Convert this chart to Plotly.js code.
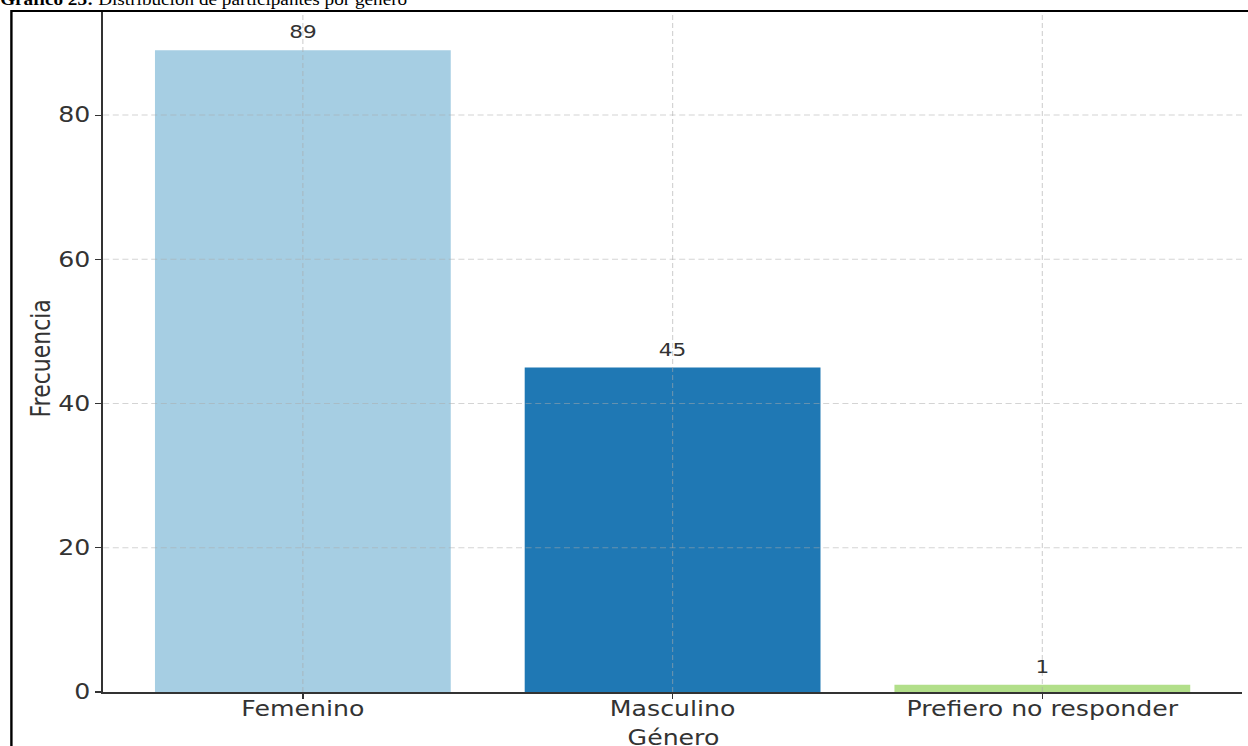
<!DOCTYPE html>
<html>
<head>
<meta charset="utf-8">
<script src="https://cdn.plot.ly/plotly-3.0.1.min.js"></script>
<style>
  html, body { margin: 0; padding: 0; overflow: hidden; background: #fff; }
  #wrap { width: 1040px; height: 746px; transform: scaleX(1.2); transform-origin: 0 0; }
</style>
</head>
<body>
<div id="wrap"><div id="chart" style="width:1040px;height:746px;"></div></div>
<script>
// ---- data ----
const categories = ['Femenino', 'Masculino', 'Prefiero no responder'];
const frecuencias = [89, 45, 1];
const colores = ['#a6cee3', '#1f78b4', '#b2df8a'];
const yTicks = [0, 20, 40, 60, 80];
const chartTitle = '<b>Gráfico 23:</b> Distribución de participantes por género';
const xTitle = 'Género';
const yTitle = 'Frecuencia';

// ---- layout geometry ----
const W = 1040, H = 746;
const M = { l: 86, r: 5, t: 12, b: 54 };
const pw = W - M.l - M.r, ph = H - M.t - M.b;
const txt = '#333333';
const font = 'DejaVu Sans, sans-serif';
const gridLine = { color: 'rgba(170,170,170,0.5)', width: 1, dash: '5px,3px' };

const shapes = [];
yTicks.slice(1).forEach(v => shapes.push({
  type: 'line', xref: 'paper', x0: 0, x1: 1, yref: 'y', y0: v, y1: v,
  line: gridLine, layer: 'above'
}));
categories.forEach(c => shapes.push({
  type: 'line', xref: 'x', x0: c, x1: c, yref: 'paper', y0: 0, y1: 1,
  line: gridLine, layer: 'above'
}));
// document frame
shapes.push({
  type: 'rect', xref: 'paper', yref: 'paper',
  x0: (9.5 - M.l) / pw, x1: 1.2, y0: -0.3, y1: 1 + (M.t - 11) / ph,
  line: { color: '#000', width: 2 }, fillcolor: 'rgba(0,0,0,0)', layer: 'below'
});

const annotations = categories.map((c, i) => ({
  x: c, y: frecuencias[i], xref: 'x', yref: 'y',
  text: String(frecuencias[i]), showarrow: false,
  yanchor: 'bottom', yshift: 6,
  font: { family: font, size: 18, color: txt }
}));
annotations.push({
  xref: 'paper', yref: 'paper', x: (-M.l - 2) / pw, y: 1 + (M.t - 11.5) / ph,
  xanchor: 'left', yanchor: 'bottom', showarrow: false, text: chartTitle,
  font: { family: 'Liberation Serif, Times New Roman, serif', size: 16, color: '#000' }
});
// axis titles
annotations.push({
  xref: 'paper', yref: 'paper', x: 0.5, y: -(738 - (H - M.b)) / ph,
  xanchor: 'center', yanchor: 'middle', showarrow: false, text: xTitle,
  font: { family: font, size: 21, color: txt }
});
annotations.push({
  xref: 'paper', yref: 'paper', x: (33.5 - M.l) / pw, y: 1 - (359 - M.t) / ph,
  xanchor: 'center', yanchor: 'middle', showarrow: false, text: yTitle, textangle: -90,
  font: { family: font, size: 22, color: txt }
});

const trace = {
  type: 'bar', x: categories, y: frecuencias, width: 0.8,
  marker: { color: colores, line: { width: 0 } },
  hoverinfo: 'none'
};

const layout = {
  width: W, height: H, margin: M,
  paper_bgcolor: '#fff', plot_bgcolor: '#fff',
  showlegend: false,
  font: { family: font, color: txt },
  xaxis: {
    type: 'category', range: [-0.54, 2.54], fixedrange: true,
    showline: true, linecolor: '#333', linewidth: 1.5,
    ticks: 'outside', ticklen: 5, tickwidth: 1.2, tickcolor: '#333',
    ticklabelstandoff: -8,
    tickfont: { family: font, size: 21, color: txt },
    showgrid: false, zeroline: false
  },
  yaxis: {
    range: [0, 94.3], fixedrange: true,
    tickvals: yTicks, ticktext: yTicks.map(String),
    showline: true, linecolor: '#333', linewidth: 1.5,
    ticks: 'outside', ticklen: 5, tickwidth: 1.2, tickcolor: '#333',
    tickfont: { family: font, size: 21, color: txt },
    showgrid: false, zeroline: false
  },
  shapes: shapes,
  annotations: annotations
};

Plotly.newPlot('chart', [trace], layout, { displayModeBar: false, staticPlot: true });
</script>
</body>
</html>
